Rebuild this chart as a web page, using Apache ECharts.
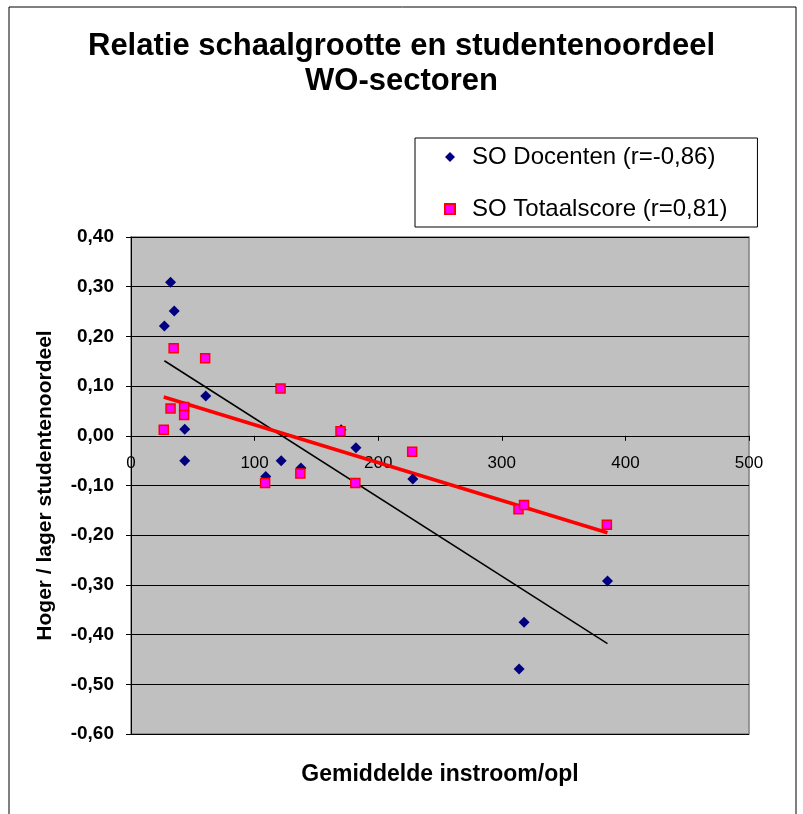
<!DOCTYPE html>
<html><head><meta charset="utf-8">
<script src="https://cdn.jsdelivr.net/npm/echarts@6/dist/echarts.min.js"></script>
<style>html,body{margin:0;padding:0;background:#fff}#c{width:803px;height:814px}</style>
</head><body><div id="c"></div>
<script>
const titleText = 'Relatie schaalgrootte en studentenoordeel\nWO-sectoren';
const xAxisName = 'Gemiddelde instroom/opl';
const yAxisName = 'Hoger / lager studentenoordeel';
const seriesNames = ['SO Docenten (r=-0,86)', 'SO Totaalscore (r=0,81)'];

// SO Docenten: x = gemiddelde instroom, y = score
const docX = [27, 32, 35, 43.5, 43.5, 60.5, 109, 121.5, 137.5, 170, 182, 228, 314, 318, 385.5];
const docY = [0.221, 0.309, 0.251, 0.013, -0.050, 0.080, -0.082, -0.050, -0.065, 0.012, -0.024, -0.087, -0.469, -0.375, -0.292];

// SO Totaalscore
const totX = [26.5, 32, 34.5, 43, 43, 60, 108.5, 121, 137, 169.5, 181.5, 227.5, 313.5, 318, 385];
const totY = [0.012, 0.055, 0.176, 0.058, 0.042, 0.156, -0.095, 0.095, -0.076, 0.009, -0.095, -0.032, -0.148, -0.139, -0.179];

// trend lines (endpoints)
const trendDocX = [27, 385.5];
const trendDocY = [0.151, -0.418];
const trendTotX = [26.5, 385.5];
const trendTotY = [0.078, -0.195];

const Y_MIN = -0.6, Y_MAX = 0.4;
const GRID_TOP = 237, GRID_BOTTOM = 80, CHART_H = 814;
const plotH = CHART_H - GRID_TOP - GRID_BOTTOM;
// move the x axis (line, ticks, labels, name) up to the y = 0 level
const xAxisOffset = -plotH * (0 - Y_MIN) / (Y_MAX - Y_MIN);

const FONT = '"Liberation Sans", Arial, sans-serif';
const zip = (a, b) => a.map((v, i) => [v, b[i]]);

const chart = echarts.init(document.getElementById('c'), null, {renderer: 'canvas'});
chart.setOption({
  backgroundColor: '#fff',
  animation: false,
  textStyle: {fontFamily: FONT},
  graphic: [{
    type: 'rect', silent: true, z: 0,
    shape: {x: 9, y: 7, width: 787, height: 830},
    style: {fill: 'none', stroke: '#000', lineWidth: 1}
  }],
  title: {
    text: titleText,
    left: 'center',
    top: 24,
    textStyle: {fontSize: 31, fontWeight: 'bold', lineHeight: 35, color: '#000', fontFamily: FONT}
  },
  legend: {
    orient: 'vertical',
    left: 415, top: 138,
    padding: [7, 30, 6, 29],
    itemGap: 28,
    itemWidth: 10, itemHeight: 10,
    backgroundColor: '#fff',
    borderColor: '#000', borderWidth: 1,
    textStyle: {fontSize: 24, lineHeight: 20, color: '#000', fontFamily: FONT, padding: [0, 0, 0, 12]},
    data: [{name: seriesNames[0], icon: 'diamond'}, {name: seriesNames[1], icon: 'rect'}]
  },
  grid: {
    left: 131, right: 54, top: GRID_TOP, bottom: GRID_BOTTOM,
    show: true, backgroundColor: '#C0C0C0', borderColor: '#808080', borderWidth: 1.5,
    containLabel: false, outerBoundsMode: 'none'
  },
  xAxis: {
    type: 'value', min: 0, max: 500, interval: 100,
    offset: xAxisOffset,
    name: xAxisName, nameLocation: 'middle', nameGap: 327,
    nameTextStyle: {fontSize: 23, fontWeight: 'bold', color: '#000', fontFamily: FONT},
    axisLine: {onZero: false, lineStyle: {color: '#000', width: 1}},
    axisTick: {show: true, length: 5, inside: false, lineStyle: {color: '#000'}},
    axisLabel: {fontSize: 17, color: '#000', margin: 19, fontFamily: FONT},
    splitLine: {show: false}
  },
  yAxis: {
    type: 'value', min: Y_MIN, max: Y_MAX, interval: 0.1,
    name: yAxisName, nameLocation: 'middle', nameGap: 75, nameRotate: 90,
    nameTextStyle: {fontSize: 21, fontWeight: 'bold', color: '#000', fontFamily: FONT},
    axisLine: {show: true, lineStyle: {color: '#000', width: 1}},
    axisTick: {show: true, length: 5, inside: false, lineStyle: {color: '#000'}},
    axisLabel: {
      fontSize: 19, fontWeight: 'bold', color: '#000', margin: 17, fontFamily: FONT,
      formatter: v => (Math.abs(v) < 1e-9 ? 0 : v).toFixed(2).replace('.', ',')
    },
    splitLine: {show: true, lineStyle: {color: '#000', width: 1}}
  },
  series: [
    {
      name: 'trendDoc', type: 'line', data: zip(trendDocX, trendDocY),
      showSymbol: false, symbol: 'none', silent: true, z: 2,
      lineStyle: {color: '#000', width: 1.5}
    },
    {
      name: 'trendTot', type: 'line', data: zip(trendTotX, trendTotY),
      showSymbol: false, symbol: 'none', silent: true, z: 2,
      lineStyle: {color: '#FF0000', width: 3.5}
    },
    {
      name: seriesNames[0], type: 'scatter', data: zip(docX, docY),
      symbol: 'diamond', symbolSize: 11, z: 3,
      itemStyle: {color: '#000080', opacity: 1}
    },
    {
      name: seriesNames[1], type: 'scatter', data: zip(totX, totY),
      symbol: 'rect', symbolSize: 9, z: 4,
      itemStyle: {color: '#FF00FF', borderColor: '#FF0000', borderWidth: 1.5, opacity: 1}
    }
  ]
});
</script>
</body></html>
